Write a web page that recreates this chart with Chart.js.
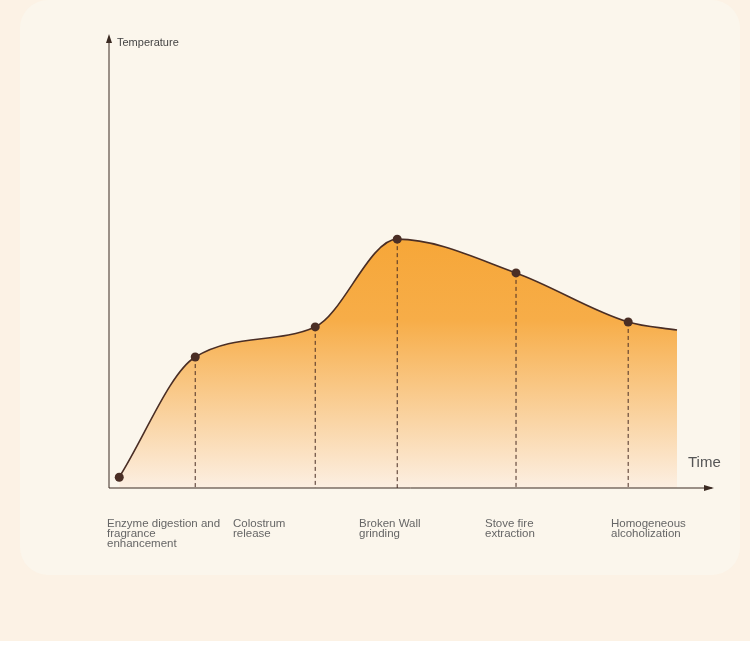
<!DOCTYPE html>
<html>
<head>
<meta charset="utf-8">
<script src="https://cdn.jsdelivr.net/npm/chart.js@4"></script>
<style>
  html, body { margin: 0; padding: 0; background: #fcf2e5; }
  #wrap { width: 750px; height: 651px; position: relative; }
</style>
</head>
<body>
<div id="wrap"><canvas id="procChart" width="750" height="651"></canvas></div>
<script>
// process stages along the time axis
const stages = ['Enzyme digestion and|fragrance|enhancement', 'Colostrum|release', 'Broken Wall|grinding', 'Stove fire|extraction', 'Homogeneous|alcoholization'];
// time positions (0-100) and temperature (0-100)
const timeVals = [1.7, 14.3, 34.2, 47.8, 67.5, 86.1, 94.2];
const tempVals = [2.4, 29.1, 35.8, 55.3, 47.8, 36.9, 35.1];
const markerIdx = [0, 1, 2, 3, 4, 5];

const points = timeVals.map((t, i) => ({ x: t, y: tempVals[i] }));

const decor = {
  id: 'decor',
  beforeDraw(chart) {
    const c = chart.ctx;
    c.save();
    c.fillStyle = '#fcf2e5';
    c.fillRect(0, 0, 750, 651);
    c.fillStyle = '#fbf6ec';
    c.beginPath();
    c.roundRect(20, 0, 720, 575, 28);
    c.fill();
    c.fillStyle = '#ffffff';
    c.fillRect(0, 641, 750, 10);
    c.restore();
  },
  afterDatasetsDraw(chart) {
    const c = chart.ctx;
    const { left, right, top, bottom } = chart.chartArea;
    const meta = chart.getDatasetMeta(0);
    c.save();
    // dashed drop lines
    c.strokeStyle = '#4a2e25';
    c.lineWidth = 1;
    c.setLineDash([4, 3]);
    markerIdx.slice(1).forEach(i => {
      const p = meta.data[i];
      c.beginPath();
      c.moveTo(p.x, p.y);
      c.lineTo(p.x, bottom);
      c.stroke();
    });
    c.setLineDash([]);
    // axes with arrows
    c.strokeStyle = '#3a2a22';
    c.beginPath();
    c.moveTo(left, bottom); c.lineTo(left, top);
    c.moveTo(left, bottom); c.lineTo(right, bottom);
    c.stroke();
    c.fillStyle = '#3a2a22';
    c.beginPath();
    c.moveTo(left, top - 4); c.lineTo(left - 3, top + 5); c.lineTo(left + 3, top + 5); c.fill();
    c.beginPath();
    c.moveTo(right + 2, bottom); c.lineTo(right - 8, bottom - 3); c.lineTo(right - 8, bottom + 3); c.fill();
    // markers on top
    c.fillStyle = '#4a2e25';
    markerIdx.forEach(i => {
      const p = meta.data[i];
      c.beginPath(); c.arc(p.x, p.y, 4.5, 0, Math.PI * 2); c.fill();
    });
    // axis titles
    c.fillStyle = '#444';
    c.font = '11px "Liberation Sans", Arial, sans-serif';
    c.textBaseline = 'middle';
    c.fillText('Temperature', left + 8, top + 5);
    c.fillStyle = '#555';
    c.font = '15px "Liberation Sans", Arial, sans-serif';
    c.fillText('Time', 688, 463);
    // stage labels
    c.fillStyle = '#666';
    c.font = '11.5px "Liberation Sans", Arial, sans-serif';
    c.textBaseline = 'top';
    stages.forEach((s, i) => {
      s.split('|').forEach((line, j) => {
        c.fillText(line, 107 + i * 126, 518 + j * 10);
      });
    });
    c.restore();
  }
};

const ctx = document.getElementById('procChart').getContext('2d');
const grad = ctx.createLinearGradient(0, 230, 0, 488);
grad.addColorStop(0, '#f6a637');
grad.addColorStop(0.35, '#f7ad48');
grad.addColorStop(1, '#fcefe2');

new Chart(ctx, {
  type: 'line',
  data: {
    datasets: [{
      data: points,
      borderColor: '#4a2e25',
      borderWidth: 1.6,
      backgroundColor: grad,
      fill: 'origin',
      cubicInterpolationMode: 'monotone',
      pointRadius: 0
    }]
  },
  options: {
    responsive: false,
    animation: false,
    layout: { padding: { left: 109, right: 38, top: 38, bottom: 163 } },
    plugins: { legend: { display: false }, tooltip: { enabled: false } },
    scales: {
      x: { type: 'linear', min: 0, max: 100, display: false },
      y: { min: 0, max: 100, display: false }
    }
  },
  plugins: [decor]
});
</script>
</body>
</html>
